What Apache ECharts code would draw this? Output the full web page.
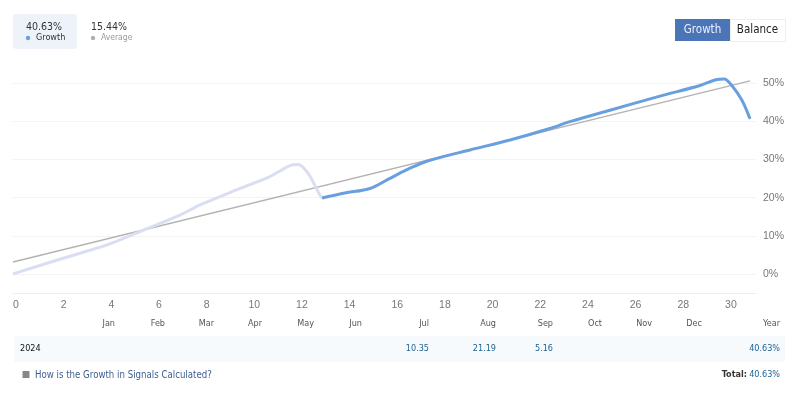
<!DOCTYPE html>
<html><head><meta charset="utf-8">
<style>html,body{margin:0;padding:0;background:#fff}#c{width:798px;height:400px}</style>
<script src="https://cdn.jsdelivr.net/npm/echarts@6/dist/echarts.min.js"></script></head>
<body><div id="c"></div>
<script>
const paleGrowth=[[0,0],[2.1,4.1],[3.94,7.6],[5.33,11.1],[7,15.4],[7.85,18.1],[9.53,22.4],[10.78,25.5],[11.62,28.4],[11.96,28.7],[12.38,26.4],[12.84,21.1],[12.97,19.9]];
const blueGrowth=[[12.97,19.9],[13.93,21.2],[14.98,22.4],[15.82,25.05],[16.66,27.7],[17.5,29.8],[19.18,32.5],[20.86,35.1],[22.53,38.1],[23.37,39.9],[25.05,42.9],[27.15,46.6],[28.83,49.4],[29.5,50.9],[29.85,51.1],[30.15,49.5],[30.59,45.5],[30.93,40.63]];
const averageLine=[[0,3.1],[30.93,50.6]];
const xTicks=[0,2,4,6,8,10,12,14,16,18,20,22,24,26,28,30];
const yTicks=[0,10,20,30,40,50];
const months=['Jan','Feb','Mar','Apr','May','Jun','Jul','Aug','Sep','Oct','Nov','Dec','Year'];
const monthRight=[115,165,214,262,314,362,429,496,553,602,652,702,780];
const yearLabel='2024';
const monthValues=[['Jul','10.35'],['Aug','21.19'],['Sep','5.16']];
const yearTotal='40.63%';
const stats=[['40.63%','Growth','#6aa0e0'],['15.44%','Average','#b0b0b0']];
const helpText='How is the Growth in Signals Calculated?';

const UI='"DejaVu Sans Condensed","DejaVu Sans",sans-serif';
const g=[];
function T(x,y,text,o){g.push({type:'text',x,y,z:5,style:Object.assign({text,font:'9px '+UI,fill:'#333',textVerticalAlign:'middle'},o||{})});}
function R(x,y,w,h,fill,extra){g.push({type:'rect',x,y,z:1,shape:{x:0,y:0,width:w,height:h,r:(extra&&extra.r)||0},style:{fill,stroke:(extra&&extra.stroke)||null,lineWidth:1}});}
R(13,14,64,35,'#eef3fa',{r:3});
stats.forEach((s,i)=>{
  const x=i?91:26;
  T(x,27,s[0],{font:'10.5px '+UI,fill:'#333'});
  g.push({type:'circle',x:x+2,y:38,z:5,shape:{cx:0,cy:0,r:2.2},style:{fill:s[2]}});
  T(x+10,38,s[1],{font:(i?'8.5px ':'9px ')+UI,fill:i?'#999':'#333'});
});
R(730.5,19.5,55,22,'#fff',{stroke:'#eee'});
R(675,19,55,22,'#4a76b8');
T(702.5,30,'Growth',{font:'11.5px '+UI,fill:'#eef',textAlign:'center'});
T(757.5,30,'Balance',{font:'11.5px '+UI,fill:'#222',textAlign:'center'});
months.forEach((m,i)=>T(monthRight[i],324,m,{fill:'#555',textAlign:'right'}));
R(14,336,771,26,'#f7fafd');
T(20,349,yearLabel,{fill:'#111'});
monthValues.forEach(([m,v])=>T(monthRight[months.indexOf(m)],349,v,{fill:'#1f6391',textAlign:'right'}));
T(780,349,yearTotal,{fill:'#1f6391',textAlign:'right'});
R(22.5,371,7,7,'#888');
T(35,375,helpText,{font:'9.6px '+UI,fill:'#3f5f8f'});
T(747,375,'Total:',{font:'bold 9px '+UI,fill:'#333',textAlign:'right'});
T(780,375,yearTotal,{fill:'#1f6391',textAlign:'right'});

const chart=echarts.init(document.getElementById('c'),null,{renderer:'canvas'});
chart.setOption({
  animation:false,
  grid:{left:13,right:42,top:45,bottom:107,containLabel:false},
  xAxis:{type:'value',min:0,max:31.18,
    axisLine:{show:true,onZero:false,lineStyle:{color:'#eeeeee'}},axisTick:{show:false},splitLine:{show:false},
    axisLabel:{customValues:xTicks,color:'#777',fontFamily:'Liberation Sans',fontSize:10.5,margin:7,padding:[0,0,0,6]}},
  yAxis:{type:'value',position:'right',min:-5,max:60,
    axisLine:{show:false},axisTick:{show:false,customValues:yTicks},
    splitLine:{show:true,lineStyle:{color:'#f3f3f3'}},
    axisLabel:{customValues:yTicks,formatter:'{value}%',color:'#777',fontFamily:'Liberation Sans',fontSize:10.5,margin:7,padding:[4,0,0,0]}},
  graphic:g,
  series:[
    {type:'line',data:averageLine,symbol:'none',lineStyle:{color:'#b3b3b3',width:1.5},z:2},
    {type:'line',data:paleGrowth,symbol:'none',smooth:0.3,lineStyle:{color:'#d9def2',width:3},z:3},
    {type:'line',data:blueGrowth,symbol:'none',smooth:0.3,lineStyle:{color:'#6a9fdf',width:3},z:4}
  ]
});
</script></body></html>
